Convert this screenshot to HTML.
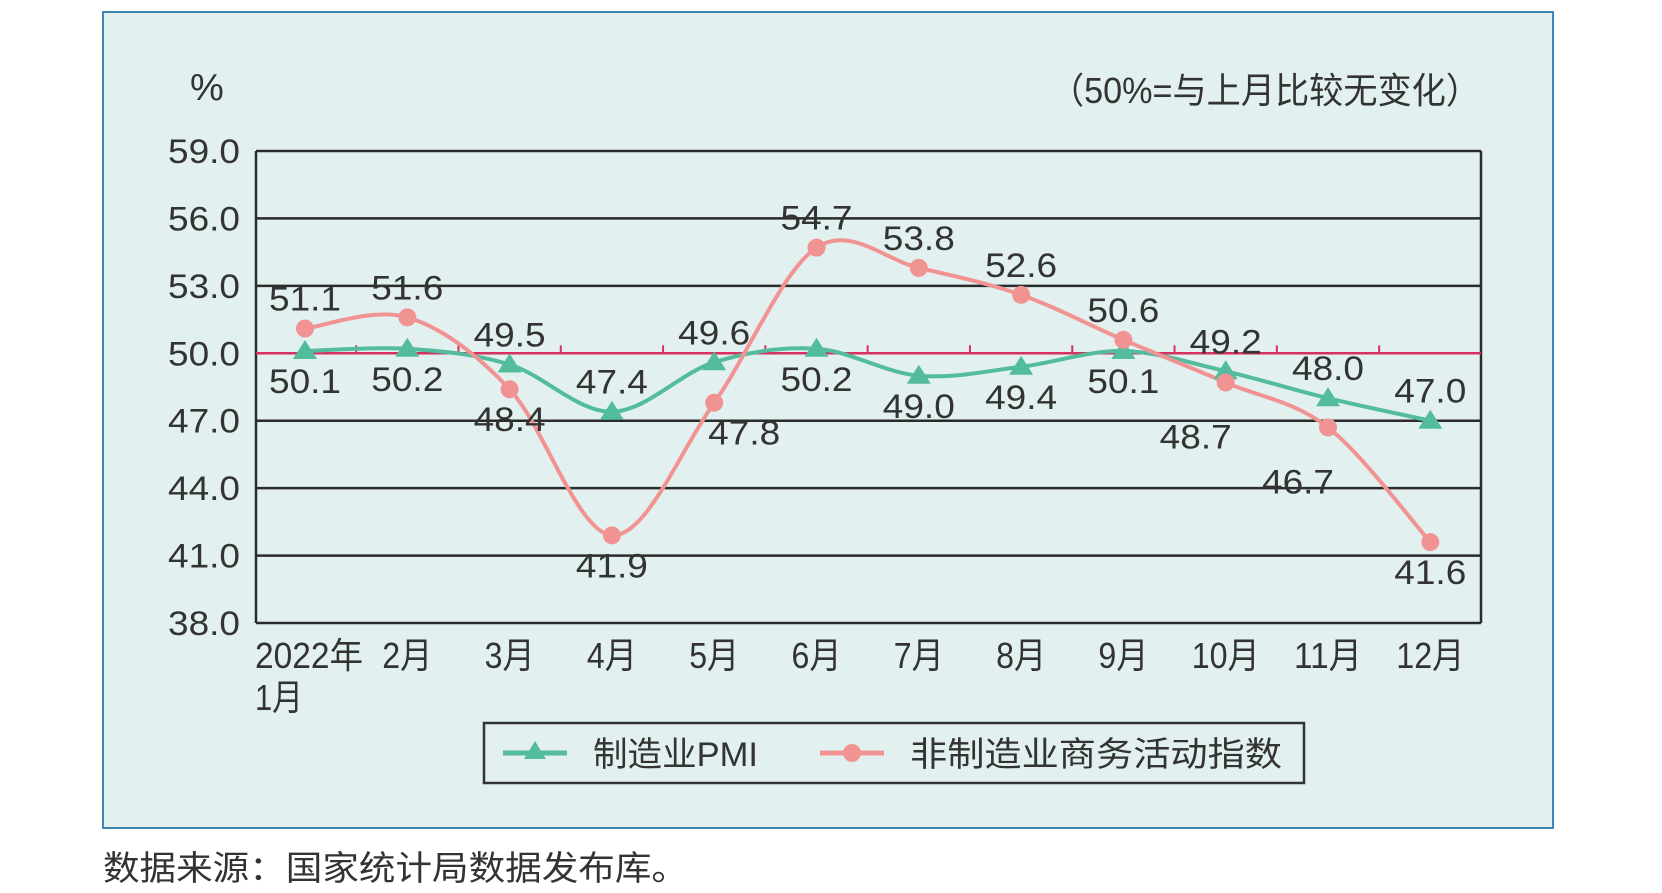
<!DOCTYPE html>
<html><head><meta charset="utf-8">
<style>
html,body{margin:0;padding:0;background:#fff;}
svg{display:block;font-family:"Liberation Sans","Noto Sans CJK SC",sans-serif;}
</style></head>
<body>
<svg id="chart" width="1662" height="893" viewBox="0 0 1662 893" xmlns="http://www.w3.org/2000/svg">
  <rect x="103" y="12" width="1450" height="816" fill="#e2f1ef" stroke="#3f86b9" stroke-width="2"/>
  <text x="190" y="100" font-size="38" fill="#333">%</text>
  <text x="1050" y="103" font-size="36" fill="#333" textLength="430" lengthAdjust="spacingAndGlyphs">（50%=与上月比较无变化）</text>
  <g id="grid"></g>
  <g id="lines"></g>
  <g id="labels"></g>
  <g>
    <rect x="484" y="723" width="820" height="60" fill="#e2f1ef" stroke="#333" stroke-width="2.5"/>
    <line x1="503" y1="753" x2="567" y2="753" stroke="#52bc9c" stroke-width="5"/>
    <polygon points="535,741 524,759 546,759" fill="#52bc9c"/>
    <text x="593" y="766" font-size="34" fill="#333" textLength="165" lengthAdjust="spacingAndGlyphs">制造业PMI</text>
    <line x1="820" y1="753" x2="884" y2="753" stroke="#f29393" stroke-width="5"/>
    <circle cx="852" cy="753" r="9" fill="#f29393"/>
    <text x="910" y="766" font-size="34" fill="#333" textLength="372" lengthAdjust="spacingAndGlyphs">非制造业商务活动指数</text>
  </g>
  <text x="103" y="880" font-size="34" fill="#333" textLength="585" lengthAdjust="spacingAndGlyphs">数据来源：国家统计局数据发布库。</text>
</svg>
<script>
const months = ["1月","2月","3月","4月","5月","6月","7月","8月","9月","10月","11月","12月"];
const pmi = [50.1,50.2,49.5,47.4,49.6,50.2,49.0,49.4,50.1,49.2,48.0,47.0];
const nonPmi = [51.1,51.6,48.4,41.9,47.8,54.7,53.8,52.6,50.6,48.7,46.7,41.6];
const yTicks = [59,56,53,50,47,44,41,38];
const pmiPlace = ["b","b","a","a","a","b","b","b","b","a","a","a"];
const nonPlace = ["a","a","b","b","br","a","a","a","a","bl","bl","b"];

const NS="http://www.w3.org/2000/svg";
const L=256,R=1481,T=151,B=623, yMin=38,yMax=59;
const x0=305, dx=102.3;
function xs(i){return x0+i*dx;}
function ys(v){return B-(v-yMin)/(yMax-yMin)*(B-T);}
function mk(tag,attrs,parent){const e=document.createElementNS(NS,tag);for(const k in attrs)e.setAttribute(k,attrs[k]);parent.appendChild(e);return e;}
const grid=document.getElementById('grid'), lines=document.getElementById('lines'), labels=document.getElementById('labels');

yTicks.forEach(v=>{
  const y=ys(v);
  if(v!==50){
    const ln=mk('line',{x1:L,x2:R,y1:y,y2:y,stroke:'#2b2b2b','stroke-width':2.5},grid);
    
    
  }
  const t=mk('text',{x:240,y:y+12,'text-anchor':'end','font-size':34,fill:'#333',textLength:72,lengthAdjust:'spacingAndGlyphs'},grid);
  t.textContent=v.toFixed(1);
  
  
});
const ax=mk('line',{x1:L,x2:L,y1:T,y2:B,stroke:'#2b2b2b','stroke-width':2.5},grid);


const ax2=mk('line',{x1:R,x2:R,y1:T,y2:B,stroke:'#2b2b2b','stroke-width':2.5},grid);


const ref=mk('line',{x1:L,x2:R,y1:ys(50),y2:ys(50),stroke:'#d63060','stroke-width':2.5},grid);


for(let i=0;i<12;i++){
  const xt=xs(i)+dx/2;
  if(xt<R){const tk=mk('line',{x1:xt,x2:xt,y1:ys(50),y2:ys(50)-8,stroke:'#d63060','stroke-width':2},grid);
  
  }
}
months.forEach((m,i)=>{
  let t;
  if(i===0){
    t=mk('text',{x:255,y:668,'font-size':36,fill:'#333',textLength:108,lengthAdjust:'spacingAndGlyphs'},grid);
    t.textContent="2022年";
    const t2=mk('text',{x:255,y:710,'font-size':36,fill:'#333',textLength:48,lengthAdjust:'spacingAndGlyphs'},grid);
    t2.textContent=m;
    
    
  } else {
    t=mk('text',{x:xs(i),y:668,'text-anchor':'middle','font-size':36,fill:'#333',textLength:m.length>2?68:50,lengthAdjust:'spacingAndGlyphs'},grid);
    t.textContent=m;
  }
  
  
});

function smooth(vals){
  const p=vals.map((v,i)=>[xs(i),ys(v)]);
  let d='M'+p[0][0]+','+p[0][1];
  for(let i=0;i<p.length-1;i++){
    const p0=p[i-1]||p[i],p1=p[i],p2=p[i+1],p3=p[i+2]||p2;
    const c1=[p1[0]+(p2[0]-p0[0])/6,p1[1]+(p2[1]-p0[1])/6];
    const c2=[p2[0]-(p3[0]-p1[0])/6,p2[1]-(p3[1]-p1[1])/6];
    d+=' C'+c1+' '+c2+' '+p2;
  }
  return d;
}
const gl=mk('path',{d:smooth(pmi),fill:'none',stroke:'#52bc9c','stroke-width':4},lines);


const pl=mk('path',{d:smooth(nonPmi),fill:'none',stroke:'#f29393','stroke-width':4},lines);



pmi.forEach((v,i)=>{
  const x=xs(i),y=ys(v);
  const tri=mk('polygon',{points:`${x},${y-11} ${x-12},${y+8} ${x+12},${y+8}`,fill:'#52bc9c'},lines);
  
  
});
nonPmi.forEach((v,i)=>{
  const c=mk('circle',{cx:xs(i),cy:ys(v),r:9,fill:'#f29393'},lines);
  
  
});
function label(v,i,place,nm){
  let x=xs(i),y=ys(v);
  if(place==='a'){y-=18;}
  else if(place==='b'){y+=42;}
  else if(place==='br'){x+=30;y+=42;}
  else if(place==='bl'){x-=30;y+=66;}
  const t=mk('text',{x:x,y:y,'text-anchor':'middle','font-size':34,fill:'#333',textLength:72,lengthAdjust:'spacingAndGlyphs'},labels);
  t.textContent=v.toFixed(1);
  
  
}
pmi.forEach((v,i)=>label(v,i,pmiPlace[i],'value-label-pmi'));
nonPmi.forEach((v,i)=>label(v,i,nonPlace[i],'value-label-non-pmi'));
</script>
</body></html>
